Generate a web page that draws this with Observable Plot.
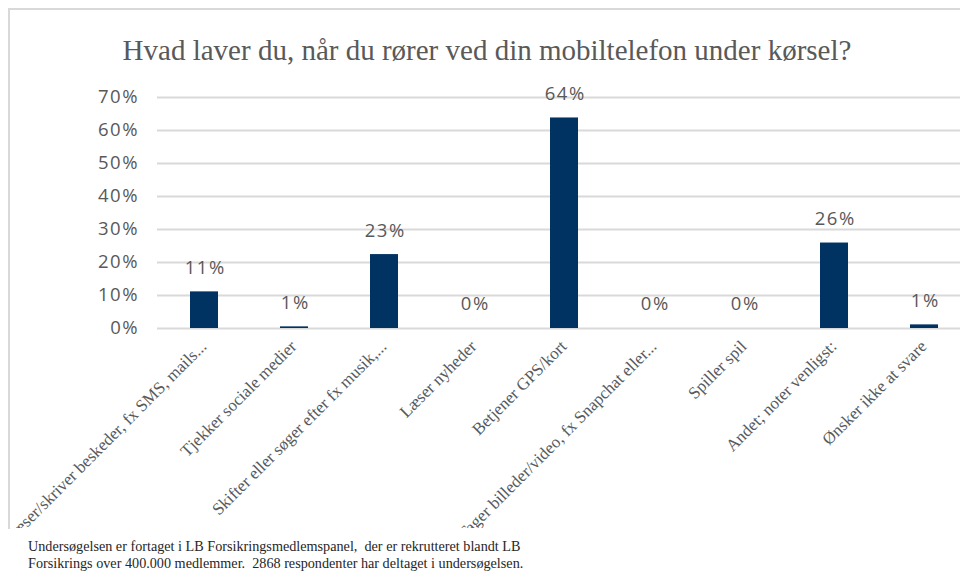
<!DOCTYPE html>
<html>
<head>
<meta charset="utf-8">
<script src="https://cdn.jsdelivr.net/npm/d3@7"></script>
<script src="https://cdn.jsdelivr.net/npm/@observablehq/plot@0.6"></script>
<style>
  html, body { margin: 0; padding: 0; background: #fff; overflow: hidden; width: 960px; height: 582px; }
  #frame { position: absolute; left: 8px; top: 8px; width: 1000px; height: 519px;
    border-left: 2px solid #d9d9d9; border-top: 2px solid #d9d9d9; overflow: hidden; }
  #title { width: 954px; height: 70px; box-sizing: border-box; padding-top: 26px; text-align: center;
    font-family: "Liberation Serif", serif; font-size: 29px; line-height: 1; color: #595959; white-space: nowrap; }
  #chart svg { display: block; max-width: none; overflow: hidden; }
  #chart g[font-family*="Open Sans"] text { letter-spacing: 1.5px; }
  #caption { position: absolute; left: 28px; top: 538px; font-family: "Liberation Serif", serif;
    font-size: 14.2px; line-height: 17px; color: #262626; white-space: nowrap; }
</style>
</head>
<body>
<div id="frame">
  <div id="title">Hvad laver du, når du rører ved din mobiltelefon under kørsel?</div>
  <div id="chart"></div>
</div>
<div id="caption">Undersøgelsen er fortaget i LB Forsikringsmedlemspanel,&nbsp; der er rekrutteret blandt LB<br>Forsikrings over 400.000 medlemmer.&nbsp; 2868 respondenter har deltaget i undersøgelsen.</div>
<script>
const categories = [
  "Læser/skriver beskeder, fx SMS, mails...",
  "Tjekker sociale medier",
  "Skifter eller søger efter fx musik,...",
  "Læser nyheder",
  "Betjener GPS/kort",
  "Tager billeder/video, fx Snapchat eller...",
  "Spiller spil",
  "Andet; noter venligst:",
  "Ønsker ikke at svare"
];
const values = [11.1, 0.5, 22.4, 0, 63.8, 0, 0, 25.9, 1.1];
const valueLabels = ["11%", "1%", "23%", "0%", "64%", "0%", "0%", "26%", "1%"];
const yTicks = [0, 10, 20, 30, 40, 50, 60, 70];

const data = categories.map((c, i) => ({cat: c, value: values[i], label: valueLabels[i]}));

const sans = "'Open Sans', sans-serif";
const serif = "'Liberation Serif', serif";

const chart = Plot.plot({
  width: 961,
  height: 448,
  marginLeft: 147,
  marginRight: 0,
  marginTop: 17,
  marginBottom: 200,
  style: {background: "transparent", overflow: "hidden"},
  x: {domain: categories, paddingInner: 0.69, paddingOuter: 0.345, axis: null},
  y: {domain: [0, 70], axis: null},
  marks: [
    Plot.ruleY(yTicks, {stroke: "#d9d9d9", strokeWidth: 2}),
    Plot.axisY({ticks: yTicks, tickSize: 0, tickPadding: 18.5, tickFormat: d => d + "%", label: null,
      fontSize: 18.5, fill: "#595959", fontFamily: sans}),
    Plot.barY(data, {x: "cat", y: "value", fill: "#003361"}),
    Plot.text(data, {x: "cat", y: "value", text: "label", dy: -24, dx: 0.75, fontSize: 18.5,
      fill: "#595959", fontFamily: sans}),
    Plot.text(data, {x: "cat", y: () => 0, text: "cat", rotate: -45, textAnchor: "end",
      lineAnchor: "bottom", dx: 3, dy: 19, fontSize: 17, fill: "#595959", fontFamily: serif})
  ]
});
document.getElementById("chart").appendChild(chart);
</script>
</body>
</html>
